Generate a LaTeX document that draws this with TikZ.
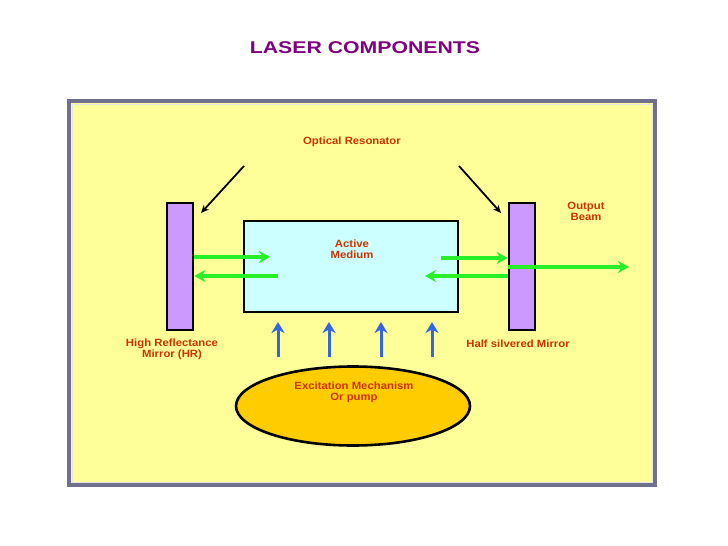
\documentclass[tikz,border=0pt]{standalone}
\usepackage{fontspec}
\setmainfont{Liberation Sans}
\newfontfamily\lblfont[FakeStretch=1.08]{Liberation Sans}
\newfontfamily\ttlfont[FakeStretch=1.25]{Liberation Sans}
\usetikzlibrary{arrows.meta,shapes.geometric}
\definecolor{lblc}{RGB}{204,51,0}
\definecolor{ttlc}{RGB}{128,0,128}
\definecolor{yelbg}{RGB}{255,255,153}
\definecolor{framec}{RGB}{112,112,140}
\definecolor{mirrorc}{RGB}{204,153,255}
\definecolor{mediumc}{RGB}{204,255,255}
\definecolor{pumpc}{RGB}{255,204,0}
\definecolor{greenc}{RGB}{40,240,40}
\definecolor{bluec}{RGB}{51,102,230}
\tikzset{
  lbl/.style={text=lblc, font=\lblfont\bfseries\fontsize{10.5}{11}\selectfont, align=center, inner sep=0pt},
  mirror/.style={draw=black, line width=2.6pt, fill=mirrorc, minimum width=26pt, minimum height=127pt, inner sep=0pt},
  medium/.style={draw=black, line width=2.6pt, fill=mediumc, minimum width=214pt, minimum height=91pt, inner sep=0pt},
  pump/.style={ellipse, draw=black, line width=2.6pt, fill=pumpc, minimum width=234pt, minimum height=79pt, inner sep=0pt},
  garrow/.style={draw=greenc, line width=3.6pt, -{Stealth[length=11pt,width=12pt,inset=3.5pt]}},
  barrow/.style={draw=bluec, line width=3pt, -{Stealth[length=11pt,width=13pt,inset=3.5pt]}},
  karrow/.style={draw=black, line width=1.8pt, -{Stealth[length=8pt,width=7pt]}}
}
\begin{document}
\begin{tikzpicture}[x=1pt,y=-1pt]
\useasboundingbox (0,0) rectangle (728,546);
\fill[white] (0,0) rectangle (728,546);
% frame
\draw[framec, line width=4pt, fill=yelbg] (69,101) rectangle (655,485);
\draw[white!80!gray, line width=0.8pt] (72,104) rectangle (652,482);
% title
\node[text=ttlc, font=\ttlfont\bfseries\fontsize{17}{20}\selectfont, inner sep=0pt] (title) at (365,47.5) {LASER COMPONENTS};
% components
\node[mirror] (lm) at (180,266.5) {};
\node[mirror] (rm) at (522,266.5) {};
\node[medium] (am) at (351,266.5) {};
\node[pump] (pump) at (353,406) {};
% labels
\node[lbl] (optres) at (352,141.5) {Optical Resonator};
\node[lbl] (amtxt) at (352,249) {Active\\Medium};
\node[lbl] (outtxt) at (586,211.5) {Output\\Beam};
\node[lbl] (hrtxt) at (172,349) {High Reflectance\\Mirror (HR)};
\node[lbl] (hstxt) at (518,343.5) {Half silvered Mirror};
\node[lbl] (pumptxt) at (354,392) {Excitation Mechanism\\Or pump};
% black pointer arrows
\coordinate (k1s) at (244,166);
\coordinate (k1e) at (201,213);
\coordinate (k2s) at (459,166);
\coordinate (k2e) at (501,213);
\draw[karrow] (k1s) -- (k1e);
\draw[karrow] (k2s) -- (k2e);
% green beams
\coordinate (g1e) at (270,257);
\coordinate (g2s) at (278,276);
\coordinate (g3s) at (441,258);
\coordinate (g4e) at (425,276);
\coordinate (g5e) at (629,267);
\draw[garrow] (lm.east |- g1e) -- (g1e);
\draw[garrow] (g2s) -- (lm.east |- g2s);
\draw[garrow] (g3s) -- (rm.west |- g3s);
\draw[garrow] (rm.west |- g4e) -- (g4e);
\draw[garrow] (rm.west |- g5e) -- (g5e);
% pump arrows
\foreach \i/\x in {1/278,2/329,3/381,4/432}{
  \coordinate (p\i s) at (\x,357);
  \coordinate (p\i e) at (\x,322);
  \draw[barrow] (p\i s) -- (p\i e);
}
\end{tikzpicture}
\end{document}
